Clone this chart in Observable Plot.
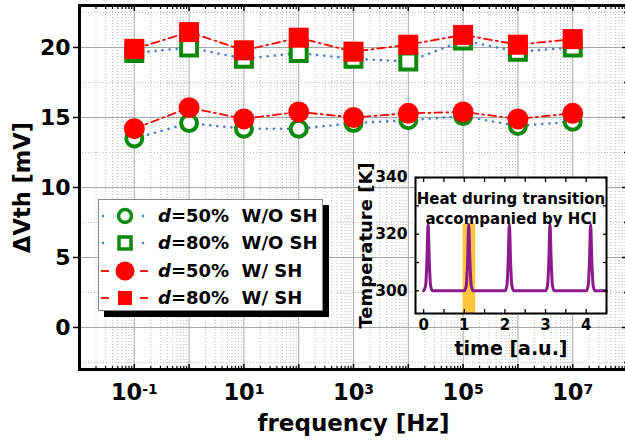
<!DOCTYPE html>
<html><head><meta charset="utf-8">
<script src="https://cdn.jsdelivr.net/npm/d3@7"></script>
<script src="https://cdn.jsdelivr.net/npm/@observablehq/plot@0.6"></script>
<style>
html,body{margin:0;padding:0;background:#fff;overflow:hidden;}
#wrap{position:relative;width:628px;height:445px;}
#wrap svg{max-width:none;display:block;}
#legend{position:absolute;left:98px;top:199px;width:223px;height:110px;border:1px solid #888;background:#fff;box-shadow:6px 6px 0 #000;font-family:"DejaVu Sans";font-weight:bold;font-size:18px;color:#000;overflow:hidden;}
.row{position:absolute;left:0;width:223px;height:26px;}
.row svg{position:absolute;left:1px;top:0;}
.row span{position:absolute;left:59px;top:0;line-height:26px;white-space:pre;}
#inset{position:absolute;left:330px;top:160px;}
</style></head>
<body><div id="wrap"></div>
<script>
// ---------- main chart data ----------
const frequency = [1e-1, 1e0, 1e1, 1e2, 1e3, 1e4, 1e5, 1e6, 1e7];
const d50_woSH = [13.5, 14.6, 14.2, 14.2, 14.6, 14.8, 15.1, 14.4, 14.7];
const d80_woSH = [19.6, 20.0, 19.2, 19.6, 19.2, 19.0, 20.5, 19.7, 20.0];
const d50_wSH  = [14.2, 15.7, 14.9, 15.4, 15.0, 15.3, 15.4, 14.9, 15.3];
const d80_wSH  = [19.9, 21.1, 19.8, 20.7, 19.7, 20.2, 20.9, 20.2, 20.6];
const seriesLabels = ["=50%  W/O SH", "=80%  W/O SH", "=50%  W/ SH", "=80%  W/ SH"];
const yTickValues = [0, 5, 10, 15, 20];
const yMinorValues = [-2.5, 2.5, 7.5, 12.5, 17.5, 22.5];
const xLabelExponents = [-1, 1, 3, 5, 7];
const xDecadeExponents = [-2, -1, 0, 1, 2, 3, 4, 5, 6, 7, 8];
const xLabel = "frequency [Hz]";
const yLabel = "ΔVth [mV]";

// ---------- inset data ----------
const insetTime = [0, 0.05, 0.08, 0.11, 0.14, 0.17, 0.22,
                   1.0, 1.05, 1.08, 1.11, 1.14, 1.17, 1.22,
                   2.0, 2.05, 2.08, 2.11, 2.14, 2.17, 2.22,
                   3.0, 3.05, 3.08, 3.11, 3.14, 3.17, 3.22,
                   4.0, 4.05, 4.08, 4.11, 4.14, 4.17, 4.22, 4.5];
const insetTemp = [300, 302, 310, 323.5, 310, 302, 300,
                   300, 302, 310, 323.5, 310, 302, 300,
                   300, 302, 310, 323.5, 310, 302, 300,
                   300, 302, 310, 323.5, 310, 302, 300,
                   300, 302, 310, 323.5, 310, 302, 300, 300];
const bandTime = [0.97, 1.28];
const bandTemp = [292, 323.5];
const insetYTicks = [300, 320, 340];
const insetYMinor = [300, 310, 320, 330, 340];
const insetXTicks = [0, 1, 2, 3, 4];
const insetXMinor = [0, 0.5, 1, 1.5, 2, 2.5, 3, 3.5, 4, 4.5];
const insetTitle = ["Heat during transition", "accompanied by HCl"];
const insetXLabel = "time [a.u.]";
const insetYLabel = "Temperature [K]";

// ---------- build ----------
const rowsOf = vals => frequency.map((f, i) => ({f, v: vals[i]}));
const decades = xDecadeExponents.map(e => Math.pow(10, e));
const xMinor = [];
for (const e of xDecadeExponents.slice(0, -1)) for (let k = 2; k <= 9; k++) xMinor.push(k * Math.pow(10, e));
const xLabelTicks = xLabelExponents.map(e => Math.pow(10, e));

const GREEN = "#0a8a0a", RED = "#ff0000", BLUE = "#4f81bd";
const blank = () => "";

const main = Plot.plot({
  width: 628, height: 445,
  marginLeft: 79, marginRight: 1, marginTop: 5, marginBottom: 76,
  x: {type: "log", domain: [1e-2, 1e8]},
  y: {domain: [-3, 23]},
  style: {fontFamily: "DejaVu Sans", fontWeight: "bold", color: "#000", background: "white", maxWidth: "none"},
  marks: [
    Plot.gridX({ticks: xMinor, stroke: "#bdbdbd", strokeOpacity: 1, strokeDasharray: "1,2"}),
    Plot.gridY({ticks: yMinorValues, stroke: "#bdbdbd", strokeOpacity: 1, strokeDasharray: "1,2"}),
    Plot.gridX({ticks: decades, stroke: "#a8a8a8", strokeOpacity: 1, strokeWidth: 1}),
    Plot.gridY({ticks: yTickValues, stroke: "#a8a8a8", strokeOpacity: 1, strokeWidth: 1}),
    // series
    Plot.line(rowsOf(d50_woSH), {x: "f", y: "v", stroke: BLUE, strokeWidth: 2.6, strokeDasharray: "0.1,7", strokeLinecap: "round"}),
    Plot.line(rowsOf(d80_woSH), {x: "f", y: "v", stroke: BLUE, strokeWidth: 2.6, strokeDasharray: "0.1,7", strokeLinecap: "round"}),
    Plot.dot(rowsOf(d50_woSH), {x: "f", y: "v", r: 8, stroke: GREEN, strokeWidth: 4, fill: "white"}),
    Plot.dot(rowsOf(d80_woSH), {x: "f", y: "v", symbol: "square", r: 9, stroke: GREEN, strokeWidth: 4, fill: "white"}),
    Plot.line(rowsOf(d50_wSH), {x: "f", y: "v", stroke: RED, strokeWidth: 1.8, strokeDasharray: "8,4,2,4"}),
    Plot.line(rowsOf(d80_wSH), {x: "f", y: "v", stroke: RED, strokeWidth: 1.8, strokeDasharray: "8,4,2,4"}),
    Plot.dot(rowsOf(d50_wSH), {x: "f", y: "v", r: 10.5, fill: RED, stroke: "none"}),
    Plot.dot(rowsOf(d80_wSH), {x: "f", y: "v", symbol: "square", r: 11.3, fill: RED, stroke: "none"}),
    // axes
    Plot.axisY({ticks: yTickValues, tickSize: 6, tickPadding: 3, fontSize: 22, label: null, strokeWidth: 1.5}),
    Plot.axisY({anchor: "right", ticks: yTickValues, tickSize: -6, tickFormat: blank, label: null, strokeWidth: 1.5}),
    Plot.axisY({anchor: "right", ticks: yMinorValues, tickSize: -4, tickFormat: blank, label: null, strokeWidth: 1.5}),
    Plot.axisX({ticks: decades, tickSize: -5, tickFormat: blank, label: null, strokeWidth: 1.5}),
    Plot.axisX({ticks: xMinor, tickSize: -3, tickFormat: blank, label: null, strokeWidth: 1.2}),
    Plot.axisX({anchor: "top", ticks: decades, tickSize: -5, tickFormat: blank, label: null, strokeWidth: 1.5}),
    Plot.axisX({anchor: "top", ticks: xMinor, tickSize: -3, tickFormat: blank, label: null, strokeWidth: 1.2}),
    Plot.axisX({ticks: xLabelTicks, tickSize: 0, tickPadding: 15, fontSize: 22.5, label: null,
      tickFormat: d => "10^" + Math.round(Math.log10(d))}),
    Plot.text([yLabel], {text: d => d, frameAnchor: "left", textAnchor: "middle", lineAnchor: "middle", dx: -57, rotate: -90, fontSize: 22.5, fontWeight: "bold"}),
    Plot.text([xLabel], {text: d => d, frameAnchor: "bottom", textAnchor: "middle", lineAnchor: "middle", dy: 54, fontSize: 23, fontWeight: "bold"}),
    Plot.frame({stroke: "black", strokeWidth: 3})
  ]
});

// superscript exponents
d3.select(main).selectAll("text").each(function() {
  const m = /^10\^(.+)$/.exec(this.textContent);
  if (m) {
    const el = d3.select(this);
    el.text(null);
    el.append("tspan").text("10");
    el.append("tspan").attr("dy", "-0.5em").attr("font-size", "0.62em").text(m[1]);
  }
});

const wrap = document.getElementById("wrap");
wrap.appendChild(main);

// legend
const legend = document.createElement("div");
legend.id = "legend";
const symbols = [
  {line: "blue", sym: "circleOpen"},
  {line: "blue", sym: "squareOpen"},
  {line: "red", sym: "circle"},
  {line: "red", sym: "square"}
];
seriesLabels.forEach((lab, i) => {
  const row = document.createElement("div");
  row.className = "row";
  row.style.top = (3 + i * 27.4) + "px";
  const s = symbols[i];
  let svg = '<svg width="50" height="26" viewBox="0 0 50 26">';
  if (s.line === "blue") {
    svg += `<circle cx="3" cy="13" r="1.3" fill="${BLUE}"/><circle cx="43" cy="13" r="1.3" fill="${BLUE}"/>`;
  } else {
    svg += `<line x1="1" y1="13" x2="9" y2="13" stroke="${RED}" stroke-width="1.8"/><line x1="40" y1="13" x2="48" y2="13" stroke="${RED}" stroke-width="1.8"/>`;
  }
  if (s.sym === "circleOpen") svg += `<circle cx="25" cy="13" r="6.5" fill="white" stroke="${GREEN}" stroke-width="3.5"/>`;
  if (s.sym === "squareOpen") svg += `<rect x="19" y="7" width="12" height="12" fill="white" stroke="${GREEN}" stroke-width="3.5"/>`;
  if (s.sym === "circle") svg += `<circle cx="25" cy="13" r="9.5" fill="${RED}"/>`;
  if (s.sym === "square") svg += `<rect x="18" y="6" width="14" height="14" fill="${RED}"/>`;
  svg += '</svg>';
  row.innerHTML = svg + '<span><i>d</i>' + lab + '</span>';
  legend.appendChild(row);
});
wrap.appendChild(legend);

// inset
const insetRows = insetTime.map((t, i) => ({t, T: insetTemp[i]}));
const inset = Plot.plot({
  width: 290, height: 200,
  marginLeft: 85, marginRight: 14, marginTop: 17, marginBottom: 47,
  x: {domain: [-0.2, 4.5]},
  y: {domain: [292, 340]},
  style: {fontFamily: "DejaVu Sans", fontWeight: "bold", color: "#000", background: "transparent", maxWidth: "none", overflow: "visible"},
  marks: [
    Plot.frame({fill: "white", stroke: "none"}),
    Plot.rect([0], {x1: () => bandTime[0], x2: () => bandTime[1], y1: () => bandTemp[0], y2: () => bandTemp[1], fill: "#ffc63c"}),
    Plot.line(insetRows, {x: "t", y: "T", stroke: "#8c1a8c", strokeWidth: 3, curve: "monotone-x"}),
    Plot.text([insetTitle.join("\n")], {text: d => d, frameAnchor: "top", textAnchor: "middle", lineAnchor: "top", dy: 12, lineHeight: 1.33, fontSize: 15, fontWeight: "bold"}),
    Plot.axisY({ticks: insetYTicks, tickSize: 0, tickPadding: 8, fontSize: 15.5, label: null}),
    Plot.axisY({ticks: insetYMinor, tickSize: -4, tickFormat: blank, label: null, strokeWidth: 1.3}),
    Plot.axisY({anchor: "right", ticks: insetYMinor, tickSize: -4, tickFormat: blank, label: null, strokeWidth: 1.3}),
    Plot.axisX({ticks: insetXTicks, tickSize: 0, tickPadding: 6, fontSize: 15, label: null, tickFormat: d => String(d)}),
    Plot.axisX({ticks: insetXMinor, tickSize: -4, tickFormat: blank, label: null, strokeWidth: 1.3}),
    Plot.axisX({anchor: "top", ticks: insetXMinor, tickSize: -4, tickFormat: blank, label: null, strokeWidth: 1.3}),
    Plot.text([insetYLabel], {text: d => d, frameAnchor: "left", textAnchor: "middle", lineAnchor: "middle", dx: -49, rotate: -90, fontSize: 18, fontWeight: "bold"}),
    Plot.text([insetXLabel], {text: d => d, frameAnchor: "bottom", textAnchor: "middle", lineAnchor: "middle", dy: 35, fontSize: 19, fontWeight: "bold"}),
    Plot.frame({stroke: "black", strokeWidth: 2})
  ]
});
inset.id = "inset";
wrap.appendChild(inset);
</script>
</body></html>
